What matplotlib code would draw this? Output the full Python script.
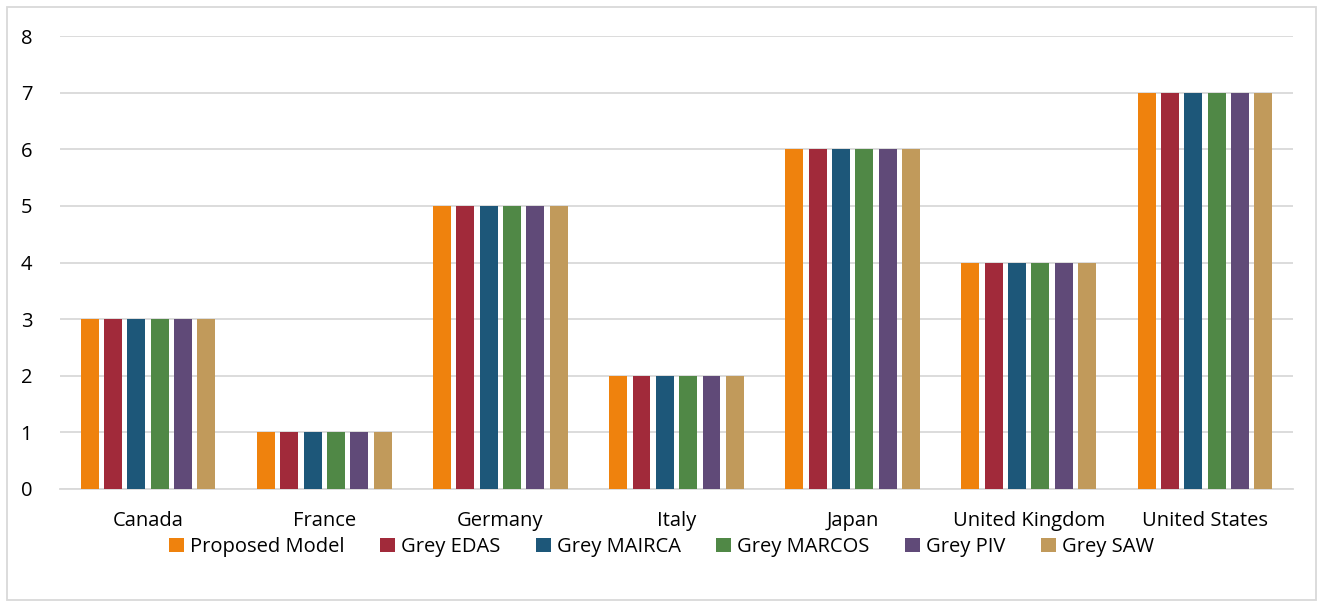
import numpy as np
import matplotlib
matplotlib.use("Agg")
import matplotlib.pyplot as plt
from matplotlib.patches import Rectangle

countries = ["Canada", "France", "Germany", "Italy", "Japan", "United Kingdom", "United States"]
methods = ["Proposed Model", "Grey EDAS", "Grey MAIRCA", "Grey MARCOS", "Grey PIV", "Grey SAW"]
# ranks per method, same order as countries
proposed = [3, 1, 5, 2, 6, 4, 7]
grey_edas = [3, 1, 5, 2, 6, 4, 7]
grey_mairca = [3, 1, 5, 2, 6, 4, 7]
grey_marcos = [3, 1, 5, 2, 6, 4, 7]
grey_piv = [3, 1, 5, 2, 6, 4, 7]
grey_saw = [3, 1, 5, 2, 6, 4, 7]
series = [proposed, grey_edas, grey_mairca, grey_marcos, grey_piv, grey_saw]
colors = ["#EF820D", "#A12A3A", "#1D5779", "#508846", "#604A78", "#C19A5B"]

plt.rcParams["font.family"] = ["Open Sans", "DejaVu Sans"]
fig = plt.figure(figsize=(13.23, 6.08), dpi=100)
ax = fig.add_axes([60 / 1323, 1 - 489 / 608, (1293 - 60) / 1323, (489 - 36) / 608])

x = np.arange(len(countries))
step = 0.1325
width = 0.102
for i, (vals, c) in enumerate(zip(series, colors)):
    ax.bar(x + (i - 2.5) * step, vals, width=width, color=c, label=methods[i], zorder=3)

ax.set_xlim(-0.5, len(countries) - 0.5)
ax.set_ylim(0, 8)
ax.set_yticks(range(0, 9))
ax.set_xticks(x)
ax.set_xticklabels(countries)
ax.yaxis.grid(True, color="#D9D9D9", lw=1.3, zorder=0)
for s in ["top", "right", "left"]:
    ax.spines[s].set_visible(False)
ax.spines["bottom"].set_color("#D9D9D9")
ax.spines["bottom"].set_linewidth(1.3)
ax.tick_params(axis="both", length=0, labelsize=14.5, colors="#000000")
ax.tick_params(axis="y", pad=20)
ax.tick_params(axis="x", pad=16)

fig.legend(loc="center", bbox_to_anchor=(0.5, 1 - 547 / 608), ncol=6, frameon=False,
           fontsize=14.5, handlelength=0.75, handleheight=0.75, handletextpad=0.3,
           columnspacing=1.75)

# outer chart border
fig.patches.append(Rectangle((7 / 1323, 8 / 608), 1309 / 1323, 593 / 608,
                             transform=fig.transFigure, fill=False,
                             edgecolor="#D9D9D9", lw=1.3))

fig.savefig("out.png", dpi=100)
